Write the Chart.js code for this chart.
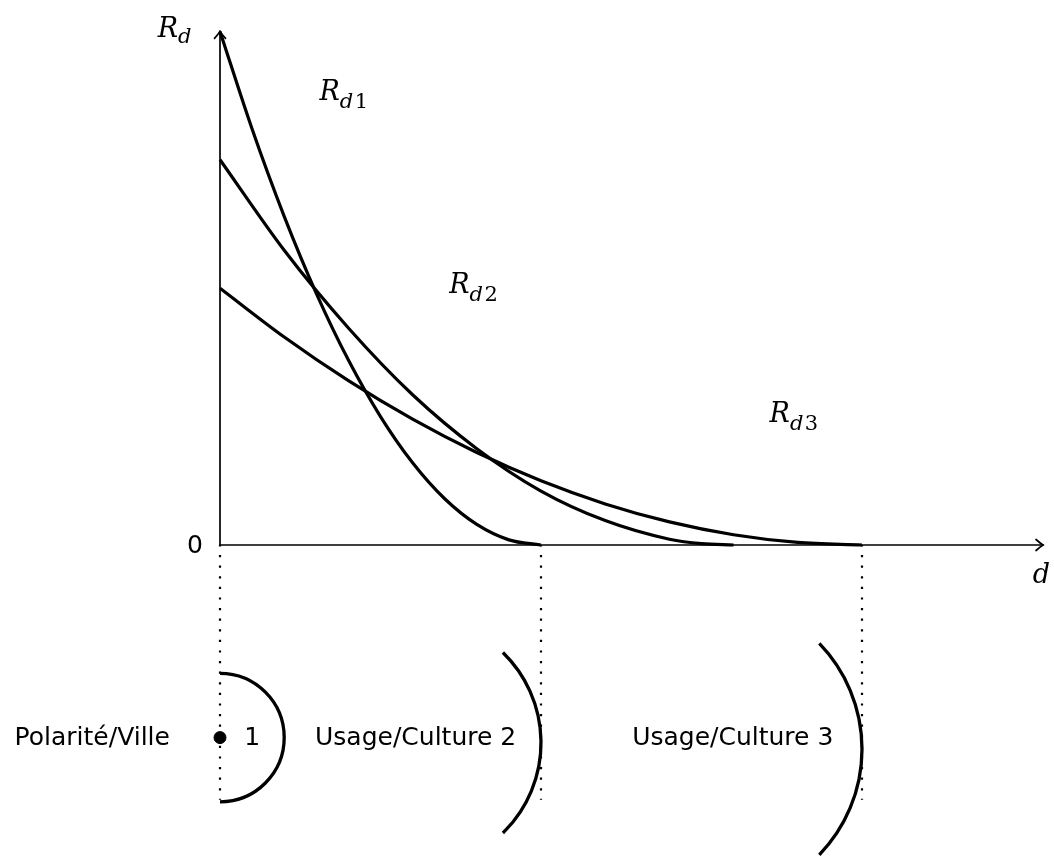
<!DOCTYPE html>
<html><head><meta charset="utf-8">
<script src="https://cdn.jsdelivr.net/npm/chart.js@4"></script>
<style>html,body{margin:0;padding:0;background:#fff}#wrap{width:1054px;height:857px;position:relative}</style>
</head><body><div id="wrap"><canvas id="c"></canvas></div>
<script>
// ---- data (1 unit of d ≈ one radius of the city circle) ----
const d1 = [0, 0.5, 1, 1.5, 2, 2.5, 3, 3.5, 4, 4.5, 5];
const rd1 = [8, 6.48, 5.12, 3.92, 2.88, 2.0, 1.28, 0.72, 0.32, 0.08, 0];
const d2 = [0, 1, 2, 3, 4, 5, 6, 7, 7.5, 8];
const rd2 = [6, 4.59, 3.38, 2.34, 1.5, 0.84, 0.38, 0.09, 0.02, 0];
const d3 = [0, 1, 2, 3, 4, 5, 6, 7, 8, 9, 10];
const rd3 = [4, 3.24, 2.56, 1.96, 1.44, 1.0, 0.64, 0.36, 0.16, 0.04, 0];
const limits = [0, 5, 10];            // outer limit of each ring on the d axis
const curveLabels = ["1", "2", "3"];
const zoneLabels = ["Polarité/Ville", "Usage/Culture 2", "Usage/Culture 3"];
const cityLabel = "1";

// ---- view extents ----
const U = 64.2;
const XMIN = -220 / U, XMAX = (1054 - 220) / U;
const YMIN = -(857 - 545) / U, YMAX = 545 / U;
const XAXIS_END = 12.82, YAXIS_END = 8.0;
const RING_Y = -3, DOT_BOTTOM = -3.97;

const pts = (xs, ys) => xs.map((x, i) => ({x, y: ys[i]}));
const curve = (xs, ys) => ({data: pts(xs, ys), borderColor: '#000', borderWidth: 3.2, pointRadius: 0,
  showLine: true, cubicInterpolationMode: 'monotone', fill: false});
const dotted = (x) => ({data: [{x, y: 0}, {x, y: DOT_BOTTOM}], borderColor: '#000', borderWidth: 2.2,
  borderDash: [2.2, 8.4], borderDashOffset: -10, pointRadius: 0, showLine: true});

const serif = '"DejaVu Serif", "Liberation Serif", serif';
const sans = '"DejaVu Sans", "Liberation Sans", sans-serif';

function arrow(ctx, x, y, dir) {
  ctx.beginPath();
  if (dir === 'up') { ctx.moveTo(x - 5.5, y + 7); ctx.quadraticCurveTo(x - 1.5, y + 2.5, x, y); ctx.quadraticCurveTo(x + 1.5, y + 2.5, x + 5.5, y + 7); }
  else { ctx.moveTo(x - 7, y - 5.5); ctx.quadraticCurveTo(x - 2.5, y - 1.5, x, y); ctx.quadraticCurveTo(x - 2.5, y + 1.5, x - 7, y + 5.5); }
  ctx.stroke();
}
function mathLabel(ctx, x, y, main, sub, size, drop) {
  ctx.font = 'italic ' + size + 'px ' + serif;
  ctx.textBaseline = 'alphabetic'; ctx.textAlign = 'left';
  ctx.fillText(main, x, y);
  if (sub !== null) {
    const w = ctx.measureText(main).width;
    const ss = Math.round(size * 0.76);
    ctx.font = 'italic ' + ss + 'px ' + serif;
    const dw = ctx.measureText(sub[0]).width;
    ctx.fillText(sub[0], x + w, y + drop);
    if (sub.length > 1) { ctx.font = ss + 'px ' + serif; ctx.fillText(sub.slice(1), x + w + dw + 1.5, y + drop); }
  }
}

const deco = {
  id: 'deco',
  beforeDatasetsDraw(chart) {
    const {ctx, scales: {x, y}} = chart;
    const X = v => x.getPixelForValue(v), Y = v => y.getPixelForValue(v);
    ctx.save();
    ctx.strokeStyle = '#000'; ctx.lineWidth = 1.7; ctx.lineCap = 'round';
    ctx.beginPath(); ctx.moveTo(X(0), Y(0)); ctx.lineTo(X(0), Y(YAXIS_END)); ctx.stroke();
    arrow(ctx, X(0), Y(YAXIS_END), 'up');
    ctx.beginPath(); ctx.moveTo(X(0), Y(0)); ctx.lineTo(X(XAXIS_END), Y(0)); ctx.stroke();
    arrow(ctx, X(XAXIS_END), Y(0), 'right');
    ctx.restore();
  },
  afterDatasetsDraw(chart) {
    const {ctx, scales: {x, y}} = chart;
    const X = v => x.getPixelForValue(v), Y = v => y.getPixelForValue(v);
    const R = v => x.getPixelForValue(v) - x.getPixelForValue(0);
    ctx.save();
    ctx.fillStyle = '#000'; ctx.strokeStyle = '#000';
    // math labels
    mathLabel(ctx, X(-0.97), Y(7.91), 'R', 'd', 27, 6);
    mathLabel(ctx, X(1.55), Y(6.93), 'R', 'd' + curveLabels[0], 27, 8);
    mathLabel(ctx, X(3.57), Y(3.925), 'R', 'd' + curveLabels[1], 27, 8);
    mathLabel(ctx, X(8.56), Y(1.916), 'R', 'd' + curveLabels[2], 27, 8);
    mathLabel(ctx, X(12.66), Y(-0.59), 'd', null, 27, 0);
    // sans labels
    ctx.font = '25px ' + sans; ctx.textBaseline = 'middle';
    ctx.textAlign = 'center'; ctx.fillText('0', X(-0.39), Y(0) + 1);
    ctx.textAlign = 'right'; ctx.fillText(zoneLabels[0], X(-0.78), Y(RING_Y) + 1);
    ctx.textAlign = 'center';
    ctx.fillText(cityLabel, X(0.5), Y(RING_Y) + 1);
    ctx.textAlign = 'left';
    ctx.fillText(zoneLabels[1], X(1.48), Y(RING_Y) + 1);
    ctx.fillText(zoneLabels[2], X(6.42), Y(RING_Y) + 1);
    // ring arcs
    ctx.lineWidth = 3.3; ctx.lineCap = 'butt';
    ctx.beginPath(); ctx.arc(X(0), Y(RING_Y), R(1), -Math.PI / 2, Math.PI / 2); ctx.stroke();
    const a2 = 45.8 * Math.PI / 180, r2 = 1.96;
    ctx.beginPath(); ctx.arc(X(limits[1] - r2), Y(-3.08), R(r2), -a2, a2); ctx.stroke();
    const a3 = 44 * Math.PI / 180, r3 = 2.37;
    ctx.beginPath(); ctx.arc(X(limits[2] - r3), Y(-3.18), R(r3), -a3, a3); ctx.stroke();
    ctx.restore();
  }
};

new Chart(document.getElementById('c'), {
  type: 'scatter',
  data: {datasets: [
    curve(d1, rd1), curve(d2, rd2), curve(d3, rd3),
    ...limits.map(dotted),
    {data: [{x: 0, y: RING_Y}], pointRadius: 6, pointBackgroundColor: '#000', pointBorderColor: '#000', showLine: false}
  ]},
  options: {
    responsive: true, maintainAspectRatio: false, animation: false, events: [],
    layout: {padding: 0, autoPadding: false},
    plugins: {legend: {display: false}, tooltip: {enabled: false}},
    scales: {
      x: {type: 'linear', min: XMIN, max: XMAX, display: false},
      y: {type: 'linear', min: YMIN, max: YMAX, display: false}
    }
  },
  plugins: [deco]
});
</script></body></html>
